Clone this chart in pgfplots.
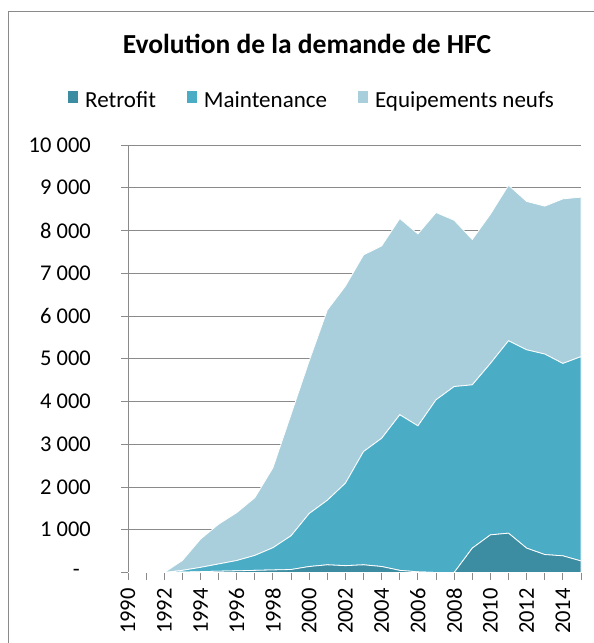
\documentclass[border=0pt]{standalone}
\usepackage{pgfplots}
\pgfplotsset{compat=1.18}
\usepackage{pgfplotstable}
\usepackage{fontspec}
\setmainfont{Carlito}
\definecolor{retro}{HTML}{3C8CA2}
\definecolor{maint}{HTML}{4BACC6}
\definecolor{equip}{HTML}{A9CFDC}
\definecolor{gridc}{HTML}{8A8A8A}

\pgfplotstableread{
year R M E
1990 0 0 0
1991 0 0 0
1992 0 0 0
1993 10 40 230
1994 20 100 660
1995 30 170 930
1996 40 240 1120
1997 50 350 1350
1998 60 520 1870
1999 70 790 2840
2000 140 1240 3570
2001 180 1510 4450
2002 160 1930 4610
2003 180 2650 4600
2004 140 3000 4500
2005 50 3640 4590
2006 15 3415 4490
2007 0 4040 4380
2008 0 4350 3890
2009 570 3820 3400
2010 880 4010 3490
2011 920 4500 3640
2012 570 4640 3470
2013 420 4690 3460
2014 390 4500 3850
2015 270 4780 3730
}\datatable

\begin{document}
\begin{tikzpicture}
\path[use as bounding box] (0pt,0pt) rectangle (594pt,-643pt);
\draw[gridc, line width=1pt] (8pt,-643pt) -- (8pt,-11pt) -- (594pt,-11pt);
\node[font=\fontsize{27.5}{32}\selectfont\bfseries, anchor=base, inner sep=0pt] at (307pt,-53.5pt) {Evolution de la demande de HFC};
\begin{axis}[
  at={(128pt,-572.5pt)}, anchor=south west,
  scale only axis, width=453pt, height=427.5pt,
  xmin=1990, xmax=2015, ymin=0, ymax=10000,
  scaled y ticks=false,
  axis x line*=bottom, axis y line*=left,
  axis line style={gridc, line width=1pt, -},
  ytick={0,1000,...,10000},
  yticklabels={{-\kern11pt},1 000,2 000,3 000,4 000,5 000,6 000,7 000,8 000,9 000,10 000},
  xtick={1990,1992,...,2014},
  xticklabels={1990,1992,1994,1996,1998,2000,2002,2004,2006,2008,2010,2012,2014},
  minor xtick={1991,1993,...,2015},
  xticklabel style={rotate=90, anchor=east, inner sep=0pt},
  yticklabel style={anchor=east, inner sep=0pt},
  xticklabel shift=8.5pt,
  yticklabel shift=30pt,
  ymajorgrids, grid style={gridc, line width=1pt},
  tick style={gridc, line width=1pt},
  tick align=outside, major tick length=7pt, minor tick length=7pt,
  tick label style={font=\fontsize{22.5}{26}\selectfont},
  /pgf/number format/assume math mode=true,
  stack plots=y,
  legend columns=3,
  legend style={at={(-0.13245,1.1046)}, anchor=west, draw=none, fill=none,
    font=\fontsize{23}{26}\selectfont, inner sep=0pt,
    nodes={inner sep=0pt},
    /tikz/every odd column/.append style={column sep=7pt},
    /tikz/every even column/.append style={column sep=31pt}},
  legend image code/.code={\path[#1, draw=none] (0pt,-2.5pt) rectangle (10pt,9.5pt);},
]
\addplot[fill=retro, draw=white, line width=0.8pt] table[x=year, y=R] {\datatable} \closedcycle;
\addlegendentry{Retrofit}
\addplot[fill=maint, draw=white, line width=0.8pt] table[x=year, y=M] {\datatable} \closedcycle;
\addlegendentry{Maintenance}
\addplot[fill=equip, draw=white, line width=0.8pt] table[x=year, y=E] {\datatable} \closedcycle;
\addlegendentry{Equipements neufs}
\end{axis}
\end{tikzpicture}
\end{document}
